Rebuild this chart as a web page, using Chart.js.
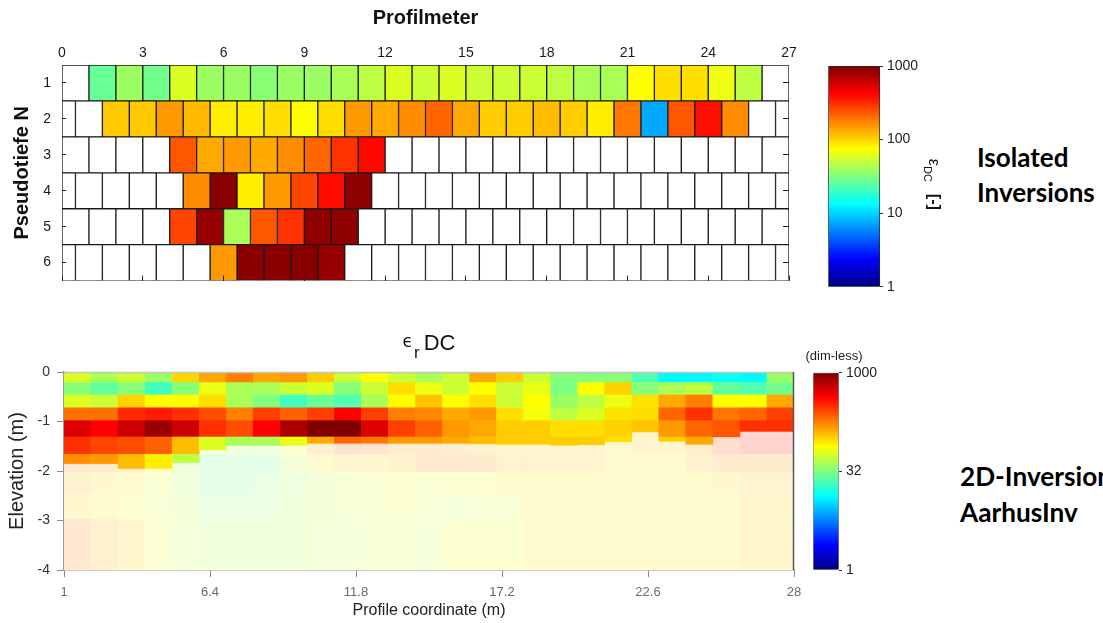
<!DOCTYPE html>
<html><head><meta charset="utf-8">
<script src="https://cdn.jsdelivr.net/npm/chart.js@4.4.0/dist/chart.umd.min.js"></script>
<style>
html,body{margin:0;padding:0;background:#fff;}
#wrap{position:relative;width:1103px;height:623px;overflow:hidden;background:#fff;}
canvas{position:absolute;}
.note{position:absolute;font-family:Lato,"Open Sans",sans-serif;font-weight:700;color:#000;white-space:nowrap;}
</style></head><body>
<div id="wrap">
<canvas id="top" width="800" height="300" style="left:0;top:0"></canvas>
<canvas id="cbTop" width="160" height="260" style="left:800px;top:40px"></canvas>
<canvas id="bot" width="810" height="303" style="left:0;top:320px"></canvas>
<canvas id="cbBot" width="90" height="260" style="left:790px;top:330px"></canvas>
<div class="note" style="left:977px;top:140px;font-size:26px;line-height:35px">Isolated<br>Inversions</div>
<div class="note" style="left:960px;top:458px;font-size:26.2px;line-height:36px">2D-Inversion<br>AarhusInv</div>
</div>
<script>
// ---------- Upper panel: isolated inversions (pseudosection, eps_DC) ----------
const profilTicks = [0, 3, 6, 9, 12, 15, 18, 21, 24, 27];
const pseudoDepths = ['1', '2', '3', '4', '5', '6'];
// 27 cells = aligned on whole metres, 28 cells = shifted by half a metre; null = no data
const epsN1 = [null, 27, 38, 29, 59, 38, 38, 34, 38, 38, 42, 48, 59, 53, 59, 53, 53, 53, 48, 42, 42, 75, 93, 93, 67, 48, null];
const epsN2 = [null, null, 108, 108, 150, 120, 84, 84, 93, 75, 93, 150, 135, 165, 211, 135, 106, 106, 118, 106, 84, 190, 7.4, 235, 380, 165, null, null];
const epsN3 = [null, null, null, null, 235, 135, 150, 135, 165, 211, 300, 400, null, null, null, null, null, null, null, null, null, null, null, null, null, null, null];
const epsN4 = [null, null, null, null, null, 165, 930, 84, 150, 265, 390, 900, null, null, null, null, null, null, null, null, null, null, null, null, null, null, null, null];
const epsN5 = [null, null, null, null, 265, 850, 42, 235, 300, 900, 900, null, null, null, null, null, null, null, null, null, null, null, null, null, null, null, null];
const epsN6 = [null, null, null, null, null, null, 150, 930, 930, 930, 850, null, null, null, null, null, null, null, null, null, null, null, null, null, null, null, null, null];
const epsRows = [epsN1, epsN2, epsN3, epsN4, epsN5, epsN6];

// ---------- Lower panel: 2D inversion (AarhusInv), eps_r DC ----------
const xTickVals = [1, 6.4, 11.8, 17.2, 22.6, 28];
const xTickLabels = ['1', '6.4', '11.8', '17.2', '22.6', '28'];
const elevTicks = [-4, -3, -2, -1, 0];
const elevLabels = ['-4', '-3', '-2', '-1', '0'];
const layerTops = [0, -0.2, -0.45, -0.71, -0.97, -1.3, -1.65, -2.02, -2.45, -2.96];
const doiDepth = [1.85, 1.85, 1.95, 1.95, 1.83, 1.57, 1.48, 1.48, 1.48, 1.44, 1.44, 1.44, 1.44, 1.44, 1.44, 1.45, 1.46, 1.46, 1.48, 1.47, 1.41, 1.21, 1.40, 1.46, 1.31, 1.20, 1.20];
const epsL1 = [59, 42, 53, 38, 98, 135, 178, 135, 150, 106, 53, 75, 53, 42, 53, 135, 106, 53, 33, 33, 33, 23, 13, 13, 14.5, 13, 38];
const epsL2 = [33, 26, 33, 20.5, 33, 66, 42, 42, 53, 59, 33, 53, 93, 66, 53, 75, 53, 66, 31, 75, 101, 33, 42, 48, 26, 23, 29];
const epsL3 = [59, 53, 101, 75, 75, 93, 42, 32, 20.5, 27, 23, 42, 75, 110, 75, 93, 53, 75, 38, 48, 66, 91, 135, 178, 75, 75, 135];
const epsL4 = [196, 196, 320, 350, 305, 250, 178, 275, 220, 275, 422, 275, 178, 168, 135, 150, 93, 70, 48, 59, 91, 93, 211, 305, 190, 211, 275];
const epsL5 = [530, 422, 596, 841, 596, 305, 250, 422, 750, 1000, 1000, 530, 275, 220, 150, 135, 106, 106, 93, 93, 101, 110, 150, 211, 235, 305, 305];
const epsL6 = [305, 265, 250, 220, 118, 59, 42, 42, 66, 135, 211, 190, 150, 150, 135, 118, 106, 106, 106, 106, 93, 110, 106, 135, 240, 350, 350];
const epsL7 = [160, 150, 118, 84, 48, 30, 30, 30, 50, 90, 105, 105, 115, 150, 150, 150, 110, 110, 110, 110, 85, 85, 85, 120, 150, 150, 150];
const epsL8 = [120, 95, 85, 62, 46, 30, 30, 35, 42, 50, 56, 62, 70, 62, 70, 70, 85, 85, 85, 85, 85, 85, 85, 85, 95, 110, 110];
const epsL9 = [95, 85, 70, 58, 50, 38, 38, 38, 44, 50, 56, 62, 66, 58, 52, 58, 58, 85, 85, 85, 85, 85, 85, 85, 85, 95, 95];
const epsL10 = [170, 125, 95, 64, 52, 46, 46, 46, 46, 52, 52, 58, 58, 52, 68, 68, 68, 85, 85, 85, 85, 85, 85, 85, 85, 95, 95];
const epsLayers = [epsL1, epsL2, epsL3, epsL4, epsL5, epsL6, epsL7, epsL8, epsL9, epsL10];

// ---------- Colour scales ----------
const cbRange = [1, 1000];
const cbTopTicks = [1, 10, 100, 1000];
const cbTopLabels = ['1', '10', '100', '1000'];
const cbBotTicks = [1, 31.6, 1000];
const cbBotLabels = ['1', '32', '1000'];

Chart.defaults.font.family = '"Liberation Sans", Arial, Helvetica, sans-serif';
Chart.defaults.color = '#222';

function jetRGB(t) {
  t = Math.min(1, Math.max(0, t));
  const c = v => Math.min(1, Math.max(0, v));
  return [c(Math.min(4 * t - 1.5, -4 * t + 4.5)), c(Math.min(4 * t - 0.5, -4 * t + 3.5)), c(Math.min(4 * t + 0.5, -4 * t + 2.5))];
}
function tOf(v) { return (Math.log10(v) - Math.log10(cbRange[0])) / (Math.log10(cbRange[1]) - Math.log10(cbRange[0])); }
function colorFor(v, fade) {
  const a = fade ? 0.19 : 1;
  const m = jetRGB(tOf(v)).map(x => Math.round(255 - (255 - x * 255) * a));
  return 'rgb(' + m[0] + ',' + m[1] + ',' + m[2] + ')';
}
function jetGradient(chart) {
  const a = chart.chartArea;
  if (!a) return '#888';
  const g = chart.ctx.createLinearGradient(0, a.bottom, 0, a.top);
  [0, 0.125, 0.375, 0.625, 0.875, 1].forEach(t => {
    const m = jetRGB(t).map(x => Math.round(x * 255));
    g.addColorStop(t, 'rgb(' + m[0] + ',' + m[1] + ',' + m[2] + ')');
  });
  return g;
}

// ---------- Upper chart ----------
const xMax = profilTicks[profilTicks.length - 1];
function cellEdges(n, xmax) {
  if (n === xmax) return Array.from({ length: n + 1 }, (_, i) => i);
  const e = [0];
  for (let i = 0; i < n - 1; i++) e.push(i + 0.5);
  e.push(xmax);
  return e;
}
const rowEdges = epsRows.map(r => cellEdges(r.length, xMax));
const nCellsMax = Math.max(...epsRows.map(r => r.length));
const topDatasets = [];
for (let k = 0; k < nCellsMax; k++) {
  const data = [], bg = [];
  epsRows.forEach((row, i) => {
    if (k < row.length) {
      data.push({ y: pseudoDepths[i], x: [rowEdges[i][k], rowEdges[i][k + 1]] });
      bg.push(row[k] == null ? '#ffffff' : colorFor(row[k], false));
    }
  });
  topDatasets.push({ data, backgroundColor: bg, borderColor: '#1a1a1a', borderWidth: 1, borderSkipped: false, grouped: false, barPercentage: 1, categoryPercentage: 1 });
}
const profTickBuild = s => { s.ticks = profilTicks.map(v => ({ value: v })); };
new Chart(document.getElementById('top'), {
  type: 'bar',
  data: { labels: pseudoDepths, datasets: topDatasets },
  options: {
    indexAxis: 'y', responsive: false, animation: false,
    layout: { padding: { left: 0, right: 11, top: 0, bottom: 16 } },
    plugins: { legend: { display: false }, tooltip: { enabled: false } },
    scales: {
      x: { type: 'linear', position: 'top', min: 0, max: xMax, weight: 1,
        afterBuildTicks: profTickBuild, afterFit: s => { s.height = 65; },
        ticks: { font: { size: 14 }, color: '#1a1a1a', padding: 3 },
        grid: { display: false, drawTicks: false }, border: { display: false },
        title: { display: true, text: 'Profilmeter', font: { size: 20, weight: 'bold' }, color: '#111', padding: { top: 6, bottom: 0 } } },
      xb: { type: 'linear', position: 'bottom', min: 0, max: xMax,
        afterBuildTicks: profTickBuild, afterFit: s => { s.height = 0; },
        ticks: { display: false },
        grid: { drawOnChartArea: false, drawTicks: true, tickLength: -5, color: '#222', z: 1 }, border: { display: false } },
      y: { type: 'category', position: 'left', weight: 1, offset: true,
        afterFit: s => { s.width = 62; },
        ticks: { font: { size: 14 }, color: '#1a1a1a', padding: 11 },
        grid: { display: false, drawTicks: false }, border: { display: false },
        title: { display: true, text: 'Pseudotiefe N', font: { size: 20, weight: 'bold' }, color: '#111', padding: { top: 10, bottom: 0 } } },
      yl: { type: 'category', labels: pseudoDepths, position: 'left', weight: 0, offset: true,
        afterFit: s => { s.width = 0; }, ticks: { display: false },
        grid: { offset: false, drawOnChartArea: false, tickLength: -4, color: '#222', z: 1 }, border: { display: false } },
      yr: { type: 'category', labels: pseudoDepths, position: 'right', offset: true,
        afterFit: s => { s.width = 0; }, ticks: { display: false },
        grid: { offset: false, drawOnChartArea: false, tickLength: -6, color: '#222', z: 1 }, border: { display: false } }
    }
  }
});

// ---------- Lower chart ----------
const elevMin = elevTicks[0], elevMax = elevTicks[elevTicks.length - 1];
const colCenters = Array.from({ length: epsLayers[0].length }, (_, i) => xTickVals[0] + 0.5 + i);
const botDatasets = [];
epsLayers.forEach((vals, L) => {
  const top = layerTops[L], bot = L + 1 < layerTops.length ? layerTops[L + 1] : elevMin;
  const up = [], upC = [], lo = [], loC = [];
  vals.forEach((v, c) => {
    const d = -doiDepth[c];
    if (top > d) { up.push({ x: colCenters[c], y: [top, Math.max(bot, d)] }); upC.push(colorFor(v, false)); }
    if (bot < d) { lo.push({ x: colCenters[c], y: [Math.min(top, d), bot] }); loC.push(colorFor(v, true)); }
  });
  const common = { borderWidth: 0, grouped: false, barPercentage: 1, categoryPercentage: 1 };
  if (up.length) botDatasets.push(Object.assign({ data: up, backgroundColor: upC }, common));
  if (lo.length) botDatasets.push(Object.assign({ data: lo, backgroundColor: loC }, common));
});
const botFrame = { id: 'botFrame', afterDatasetsDraw(chart) {
  const { ctx, chartArea: a } = chart;
  ctx.save();
  ctx.lineWidth = 1.5;
  ctx.strokeStyle = '#c4c4c4';
  ctx.beginPath(); ctx.moveTo(a.left, a.top + 0.5); ctx.lineTo(a.right, a.top + 0.5); ctx.stroke();
  ctx.strokeStyle = '#555';
  ctx.beginPath(); ctx.moveTo(a.right - 0.5, a.top); ctx.lineTo(a.right - 0.5, a.bottom); ctx.stroke();
  ctx.restore();
}};
function drawParts(ctx, parts, cx, y) {
  let total = 0;
  parts.forEach(p => { ctx.font = p.font; p.w = ctx.measureText(p.text).width; total += p.w + (p.gap || 0); });
  let x = cx - total / 2;
  parts.forEach(p => { ctx.font = p.font; ctx.fillText(p.text, x, y + p.dy); x += p.w + (p.gap || 0); });
}
const FF = '"Liberation Sans", Arial, sans-serif';
const botTitle = { id: 'botTitle', afterDraw(chart) {
  const { ctx, chartArea: a } = chart;
  ctx.save(); ctx.fillStyle = '#111'; ctx.textBaseline = 'alphabetic'; ctx.textAlign = 'left';
  drawParts(ctx, [
    { text: 'ϵ', font: '17px "DejaVu Sans", ' + FF, dy: -3, gap: 1 },
    { text: 'r', font: '17px ' + FF, dy: 8, gap: 4 },
    { text: 'DC', font: '22px ' + FF, dy: 0 }
  ], (a.left + a.right) / 2, a.top - 22);
  ctx.restore();
}};
new Chart(document.getElementById('bot'), {
  type: 'bar',
  data: { datasets: botDatasets },
  options: {
    responsive: false, animation: false,
    layout: { padding: { left: 0, right: 16, top: 52, bottom: 0 } },
    plugins: { legend: { display: false }, tooltip: { enabled: false } },
    scales: {
      x: { type: 'linear', position: 'bottom', min: xTickVals[0], max: xTickVals[xTickVals.length - 1], offset: false,
        afterBuildTicks: s => { s.ticks = xTickVals.map(v => ({ value: v })); },
        afterFit: s => { s.height = 53; },
        ticks: { callback: (v, i) => xTickLabels[i], font: { size: 13 }, color: '#6a6a6a', padding: 8, maxRotation: 0, autoSkip: false },
        grid: { drawOnChartArea: false, tickLength: 7, color: '#8a8a8a', offset: false },
        border: { color: '#9a9a9a', width: 1.5 },
        title: { display: true, text: 'Profile coordinate (m)', font: { size: 16 }, color: '#222', padding: { top: 3, bottom: 3 } } },
      y: { type: 'linear', position: 'left', min: elevMin, max: elevMax,
        afterBuildTicks: s => { s.ticks = elevTicks.map(v => ({ value: v })); },
        afterFit: s => { s.width = 64; },
        ticks: { callback: (v, i) => elevLabels[i], font: { size: 14 }, color: '#333', padding: 7 },
        grid: { drawOnChartArea: false, tickLength: 7, color: '#8a8a8a' },
        border: { color: '#9a9a9a', width: 1.5 },
        title: { display: true, text: 'Elevation (m)', font: { size: 20 }, color: '#222', padding: { top: 5, bottom: 0 } } }
    }
  },
  plugins: [botFrame, botTitle]
});

// ---------- Colour bars ----------
function makeColorbar(id, ticks, labels, pad, axisW, border, extra) {
  return new Chart(document.getElementById(id), {
    type: 'bar',
    data: { labels: ['cb'], datasets: [{ data: [cbRange], backgroundColor: ctx => jetGradient(ctx.chart), borderColor: border, borderWidth: 1, borderSkipped: false, barPercentage: 1, categoryPercentage: 1 }] },
    options: {
      responsive: false, animation: false, layout: { padding: pad },
      plugins: { legend: { display: false }, tooltip: { enabled: false } },
      scales: {
        x: { display: false },
        y: { type: 'logarithmic', position: 'right', min: cbRange[0], max: cbRange[1],
          afterBuildTicks: s => { s.ticks = ticks.map(v => ({ value: v })); },
          afterFit: s => { s.width = axisW; },
          ticks: { callback: (v, i) => labels[i], font: { size: 14 }, color: '#222', padding: 4 },
          grid: { drawOnChartArea: false, tickLength: 3, color: '#333' },
          border: { display: false } }
      }
    },
    plugins: extra
  });
}
const cbTopTitle = { id: 'cbTopTitle', afterDraw(chart) {
  const { ctx, chartArea: a } = chart;
  ctx.save(); ctx.fillStyle = '#111'; ctx.textBaseline = 'alphabetic'; ctx.textAlign = 'left';
  ctx.translate(a.right + 49, (a.top + a.bottom) / 2 + 8);
  ctx.rotate(Math.PI / 2);
  drawParts(ctx, [
    { text: 'ε', font: '16px ' + FF, dy: 0 },
    { text: 'DC', font: '11px ' + FF, dy: 5, gap: 12 },
    { text: '[-]', font: 'bold 16px ' + FF, dy: 0 }
  ], 0, 0);
  ctx.restore();
}};
const cbBotTitle = { id: 'cbBotTitle', afterDraw(chart) {
  const { ctx } = chart;
  ctx.save(); ctx.fillStyle = '#222'; ctx.font = '13px ' + FF; ctx.textAlign = 'center'; ctx.textBaseline = 'middle';
  ctx.fillText('(dim-less)', 44, 26);
  ctx.restore();
}};
makeColorbar('cbTop', cbTopTicks, cbTopLabels, { left: 28.3, top: 26, bottom: 13.3, right: 0 }, 80, '#222', [cbTopTitle]);
makeColorbar('cbBot', cbBotTicks, cbBotLabels, { left: 23, top: 42.7, bottom: 20, right: 0 }, 41, '#888', [cbBotTitle]);
</script>
</body></html>
